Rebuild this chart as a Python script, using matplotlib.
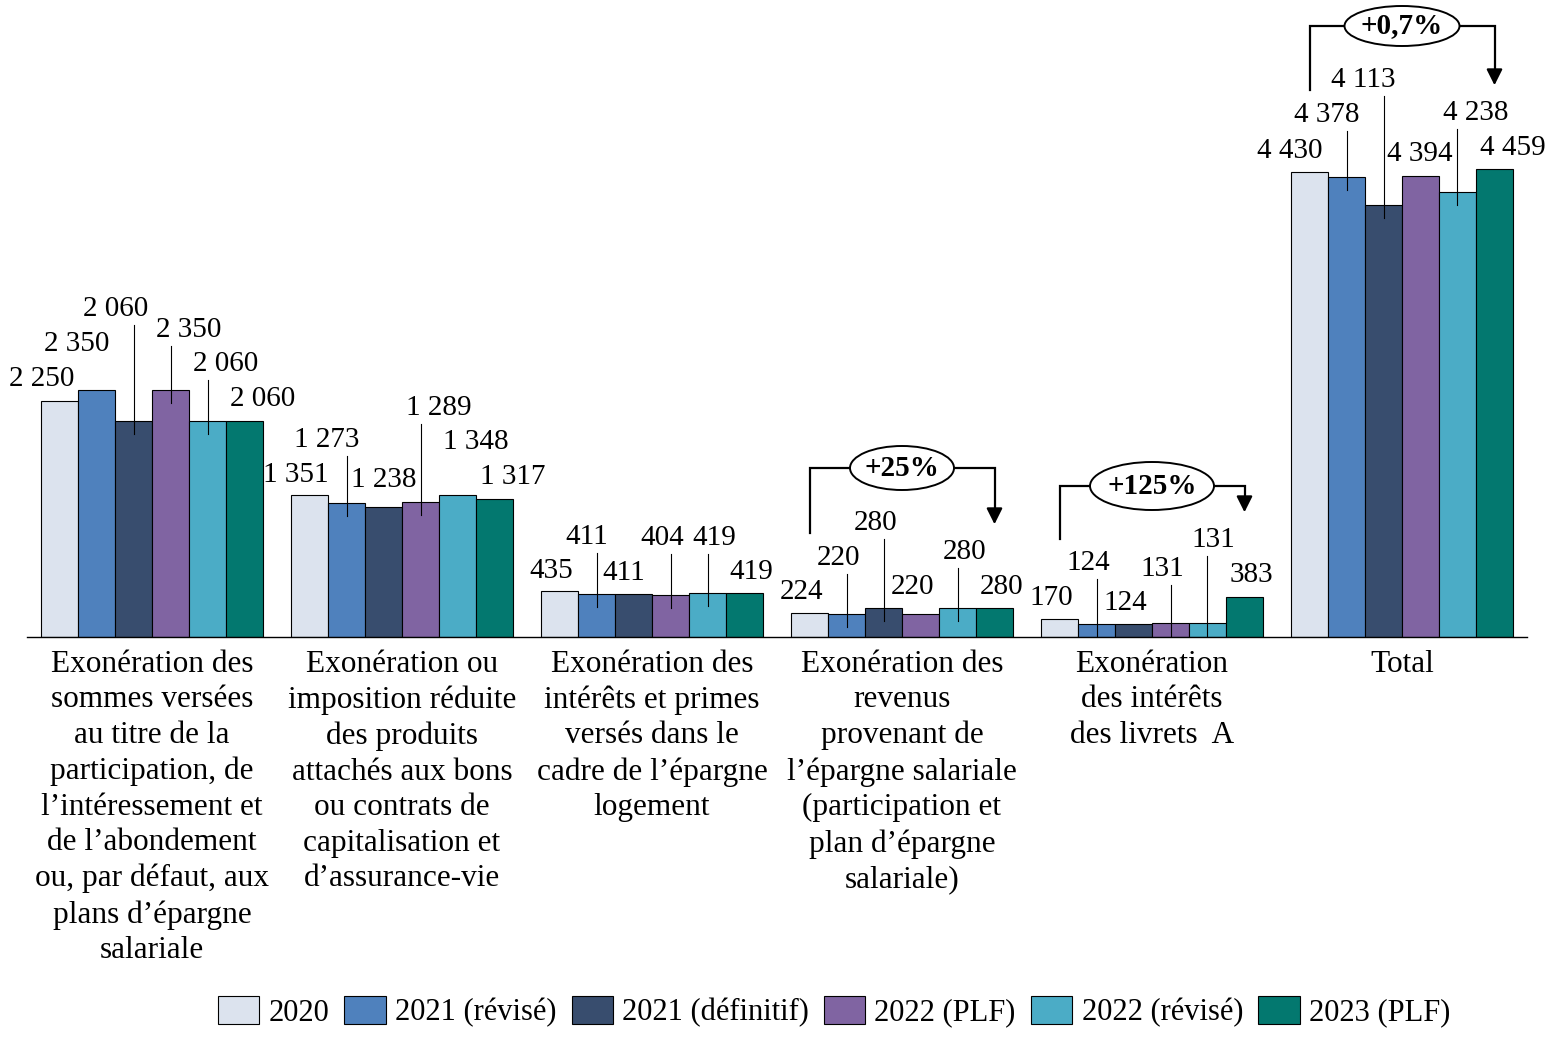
import matplotlib
matplotlib.use("Agg")
import matplotlib.pyplot as plt
from matplotlib.patches import Ellipse
import numpy as np

# données (M€)
categories = [
    "Exonération des\nsommes versées\nau titre de la\nparticipation, de\nl’intéressement et\nde l’abondement\nou, par défaut, aux\nplans d’épargne\nsalariale",
    "Exonération ou\nimposition réduite\ndes produits\nattachés aux bons\nou contrats de\ncapitalisation et\nd’assurance-vie",
    "Exonération des\nintérêts et primes\nversés dans le\ncadre de l’épargne\nlogement",
    "Exonération des\nrevenus\nprovenant de\nl’épargne salariale\n(participation et\nplan d’épargne\nsalariale)",
    "Exonération\ndes intérêts\ndes livrets  A",
    "Total",
]
series = ["2020", "2021 (révisé)", "2021 (définitif)", "2022 (PLF)", "2022 (révisé)", "2023 (PLF)"]
v2020 = [2250, 1351, 435, 224, 170, 4430]
v2021_rev = [2350, 1273, 411, 220, 124, 4378]
v2021_def = [2060, 1238, 411, 280, 124, 4113]
v2022_plf = [2350, 1289, 404, 220, 131, 4394]
v2022_rev = [2060, 1348, 419, 280, 131, 4238]
v2023_plf = [2060, 1317, 419, 280, 383, 4459]
values = [v2020, v2021_rev, v2021_def, v2022_plf, v2022_rev, v2023_plf]

growth_groups = [3, 4, 5]
growth_texts = ["+25%", "+125%", "+0,7%"]

colors = ["#DCE3EE", "#4F81BD", "#384D6E", "#8064A2", "#4BACC6", "#03786F"]

# placement des étiquettes par série (pixels : décalage x, hauteur au-dessus de la barre, trait)
label_pos = [
    [(-18, 22, 0), (-14, 20, 0), (-8, 20, 0), (-8, 21, 0), (-8, 21, 0), (-20, 21, 0)],
    [(-20, 46, 0), (-20, 63, 1), (-10, 57, 1), (-8, 56, 1), (-8, 61, 1), (-20, 62, 1)],
    [(-18, 112, 1), (0, 27, 0), (-10, 21, 0), (-8, 85, 1), (-8, 21, 0), (-20, 125, 1)],
    [(18, 60, 1), (18, 94, 1), (-8, 57, 1), (-8, 27, 0), (-8, 54, 1), (-1, 22, 0)],
    [(18, 57, 1), (18, 53, 0), (7, 55, 1), (7, 56, 1), (6, 83, 1), (18, 79, 1)],
    [(18, 22, 0), (18, 22, 0), (7, 21, 0), (7, 21, 0), (7, 22, 0), (18, 21, 0)],
]
# crochets : haut, bas gauche, pointe flèche, largeur/hauteur ellipse (pixels)
brackets = [(169, 104, 110, 104, 44), (151, 98, 122, 124, 48), (611, 547, 549, 115, 40)]

plt.rcParams['font.family'] = ['Liberation Serif', 'DejaVu Serif']
W, H = 1553, 1048
fig = plt.figure(figsize=(W / 100, H / 100), dpi=100)
ax = fig.add_axes([27 / W, 411 / H, 1500 / W, 637 / H])
ymax = 637 / 0.105
ax.set_xlim(-0.5, 5.5)
ax.set_ylim(0, ymax)
py = ymax / 637  # valeur par pixel
px = 1 / 250     # unité x par pixel

x = np.arange(len(categories))
bw = 37 / 250
for i, (name, vals) in enumerate(zip(series, values)):
    xs = x + (i - 2.5) * bw
    ax.bar(xs, vals, bw, color=colors[i], edgecolor='black', linewidth=0.8, label=name)
    for g, (xx, v) in enumerate(zip(xs, vals)):
        dx, dy, line = label_pos[i][g]
        txt = f"{v:,}".replace(",", " ")
        ax.text(xx + dx * px, v + dy * py, txt, ha='center', va='center', fontsize=21)
        if line:
            ax.plot([xx, xx], [v - 13 * py, v + (dy - 16) * py], color='black', lw=0.8)

for g, t, (top, lb, tip, ew, eh) in zip(growth_groups, growth_texts, brackets):
    x0 = g - 2.5 * bw
    x1 = g + 2.5 * bw
    ax.plot([x0, x0, x1, x1], [lb * py, top * py, top * py, (tip + 12) * py],
            color='black', lw=1.6, solid_joinstyle='miter')
    ax.annotate('', xy=(x1, tip * py), xytext=(x1, (tip + 14) * py),
                arrowprops=dict(arrowstyle='-|>', color='black', lw=1.6, mutation_scale=24))
    ax.add_patch(Ellipse((g, top * py), ew * px, eh * py, facecolor='white',
                         edgecolor='black', lw=1.4, zorder=3))
    ax.text(g, top * py, t, ha='center', va='center', fontsize=21, fontweight='bold', zorder=4)

ax.set_xticks(x)
ax.set_xticklabels(categories, fontsize=22.5, linespacing=1.3)
ax.tick_params(axis='x', length=0, pad=9)
ax.set_yticks([])
for s in ['top', 'left', 'right']:
    ax.spines[s].set_visible(False)
ax.spines['bottom'].set_linewidth(1.0)
ax.patch.set_visible(False)

fig.legend(loc='center', bbox_to_anchor=(834 / W, 1 - 1012 / H), ncol=6, frameon=False,
           fontsize=22, handlelength=1.35, handleheight=1.0, handletextpad=0.3,
           columnspacing=0.5)

fig.savefig("out.png", dpi=100)
